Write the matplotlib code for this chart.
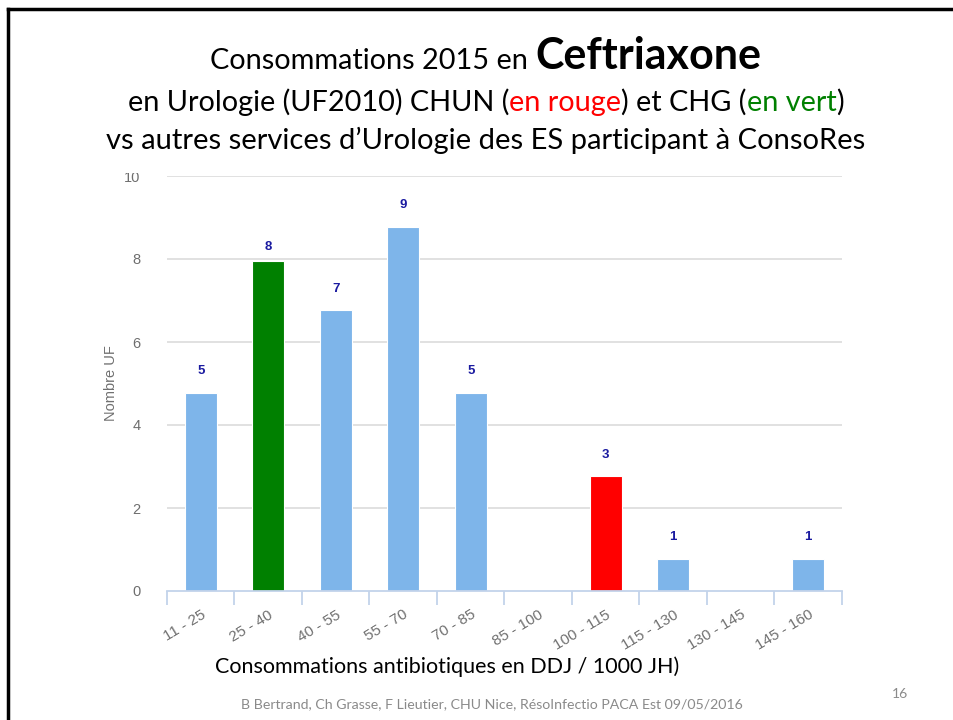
import matplotlib
matplotlib.use("Agg")
import matplotlib.pyplot as plt
from matplotlib.patches import Rectangle
from matplotlib.lines import Line2D
import numpy as np

# ---- data ----
categories = ["11 - 25", "25 - 40", "40 - 55", "55 - 70", "70 - 85",
              "85 - 100", "100 - 115", "115 - 130", "130 - 145", "145 - 160"]
counts = [5, 8, 7, 9, 5, 0, 3, 1, 0, 1]              # value labels
bar_heights = [4.77, 7.95, 6.77, 8.77, 4.77, 0, 2.77, 0.77, 0, 0.77]  # drawn heights
bar_colors = ["#7eb5ea", "#008000", "#7eb5ea", "#7eb5ea", "#7eb5ea",
              "#7eb5ea", "#ff0000", "#7eb5ea", "#7eb5ea", "#7eb5ea"]
yticks = [0, 2, 4, 6, 8, 10]

W, H = 954, 720
fig = plt.figure(figsize=(W / 100, H / 100), dpi=100)
fig.patch.set_facecolor("white")

ax = fig.add_axes([167 / W, 1 - 591 / H, (842 - 167) / W, (591 - 176) / H])
x = np.arange(len(categories))
ax.bar(x, bar_heights, width=0.48, color=bar_colors, edgecolor="white",
       linewidth=0.8, zorder=3)
for xi, c in zip(x, counts):
    if c > 0:
        ax.annotate(str(c), (xi, c), xytext=(0, 12), textcoords="offset pixels",
                    ha="center", va="center", fontsize=9.5, fontweight="bold",
                    color="#1a1aa0", family="Liberation Sans", zorder=4)

ax.set_xlim(-0.5, len(categories) - 0.5)
ax.set_ylim(0, 10)
ax.set_yticks(yticks)
ax.set_yticklabels([str(v) for v in yticks], fontsize=10.5, color="#6e6e6e",
                   family="Liberation Sans")
ax.tick_params(axis="y", length=0, pad=19)
for v in yticks[1:]:
    ax.axhline(v, color="#dedede", linewidth=1.3, zorder=1)

ax.set_xticks(np.arange(-0.5, len(categories), 1))
ax.set_xticklabels([])
ax.tick_params(axis="x", which="major", length=10, width=1.3, color="#c3d3ea",
               direction="out")
ax.set_xticks(x, minor=True)
ax.set_xticklabels(categories, minor=True, rotation=31, ha="right",
                   rotation_mode="anchor", fontsize=11, color="#707070",
                   family="Liberation Sans")
ax.tick_params(axis="x", which="minor", length=0, pad=12)
for lab in ax.get_xticklabels(minor=True):
    lab.set_va("top")

for s in ["top", "right", "left"]:
    ax.spines[s].set_visible(False)
ax.spines["bottom"].set_color("#c3d3ea")
ax.spines["bottom"].set_linewidth(1.3)
ax.spines["bottom"].set_zorder(5)

ax.set_ylabel("Nombre UF", fontsize=10.5, color="#707070",
              family="Liberation Sans")
ax.yaxis.set_label_coords(-0.073, 0.5)

# white cover hiding top of "10"
fig.patches.append(Rectangle((100 / W, 1 - 173 / H), 60 / W, 20 / H,
                             transform=fig.transFigure, facecolor="white",
                             edgecolor="none", zorder=1))

# slide border
fig.add_artist(Line2D([8 / W, 8 / W], [0, 1 - 9 / H], color="black",
                      linewidth=2.5, transform=fig.transFigure))
fig.add_artist(Line2D([8 / W, 1], [1 - 9 / H, 1 - 9 / H], color="black",
                      linewidth=2.5, transform=fig.transFigure))

# ---- multi-colored centered titles ----
fig.canvas.draw()
renderer = fig.canvas.get_renderer()
TF = "Lato"


def colored_line(pieces, y_px, cx_px=486):
    texts = []
    for s, col, size, weight in pieces:
        t = fig.text(0, 0, s, color=col, fontsize=size, fontweight=weight,
                     family=TF, va="baseline", ha="left", zorder=5)
        texts.append(t)
    widths = [t.get_window_extent(renderer).width for t in texts]
    total = sum(widths)
    xcur = cx_px - total / 2
    for t, w in zip(texts, widths):
        t.set_position((xcur / W, 1 - y_px / H))
        xcur += w


colored_line([("Consommations 2015 en ", "black", 20.8, "normal"),
              ("Ceftriaxone", "black", 31, "bold")], 69)
colored_line([("en Urologie (UF2010) CHUN (", "black", 20.8, "normal"),
              ("en rouge", "#ff0000", 20.8, "normal"),
              (") et CHG (", "black", 20.8, "normal"),
              ("en vert", "#008000", 20.8, "normal"),
              (")", "black", 20.8, "normal")], 111)
colored_line([("vs autres services d\u2019Urologie des ES participant à ConsoRes",
               "black", 21, "normal")], 149)

fig.text(447 / W, 1 - 667 / H, "Consommations antibiotiques en DDJ / 1000 JH)",
         fontsize=15.5, family=TF, ha="center", va="center", color="black")
fig.text(492 / W, 1 - 704 / H,
         "B Bertrand, Ch Grasse, F Lieutier, CHU Nice, RésoInfectio PACA Est 09/05/2016",
         fontsize=10.2, family=TF, ha="center", va="center", color="#8a8a8a")
fig.text(900 / W, 1 - 694 / H, "16", fontsize=10, family=TF, ha="center",
         va="center", color="#8a8a8a")

fig.savefig("out.png", dpi=100, facecolor="white")
